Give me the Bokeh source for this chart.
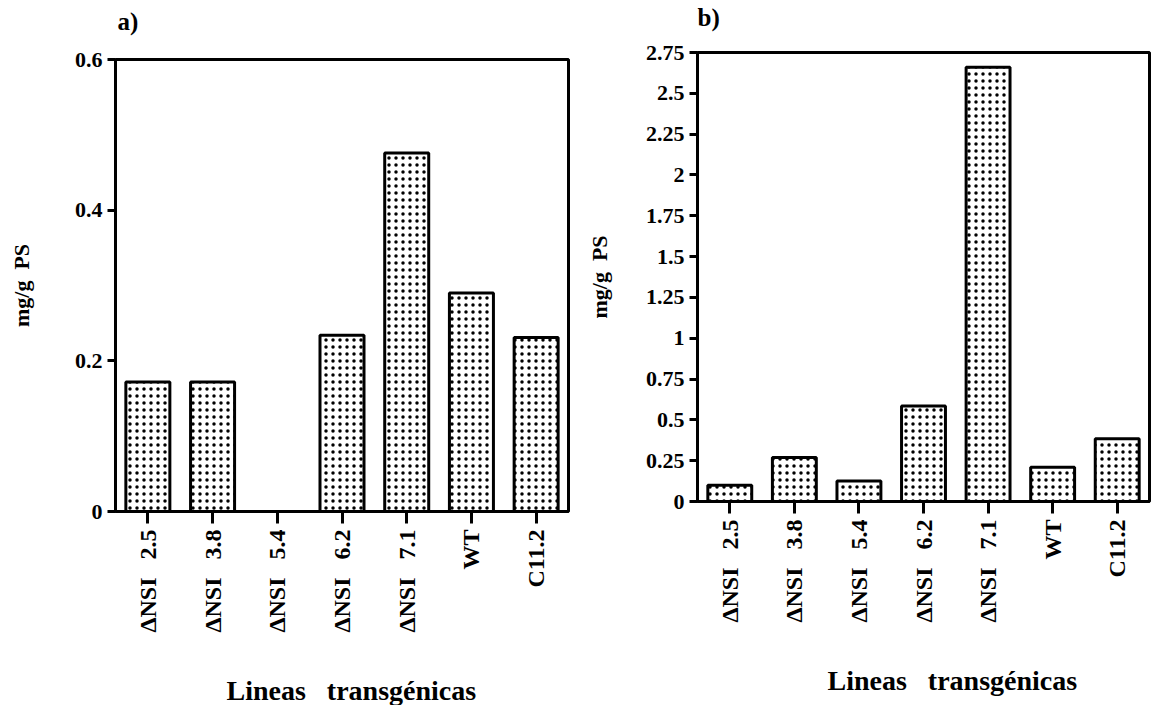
import math
from bokeh.plotting import figure
from bokeh.layouts import row
from bokeh.models import FactorRange, Range1d, FixedTicker, Title
from bokeh.embed import file_html
from bokeh.resources import INLINE

NB = "\u00a0"
categories = ["\u0394NSI" + NB * 3 + "2.5", "\u0394NSI" + NB * 3 + "3.8", "\u0394NSI" + NB * 3 + "5.4",
              "\u0394NSI" + NB * 3 + "6.2", "\u0394NSI" + NB * 3 + "7.1", "WT", "C11.2"]
values_a = [0.172, 0.172, 0.0, 0.234, 0.476, 0.29, 0.231]
values_b = [0.10, 0.27, 0.125, 0.585, 2.66, 0.21, 0.385]
ticks_a = [0, 0.2, 0.4, 0.6]
tick_labels_a = ["0", "0.2", "0.4", "0.6"]
ticks_b = [0, 0.25, 0.5, 0.75, 1, 1.25, 1.5, 1.75, 2, 2.25, 2.5, 2.75]
tick_labels_b = ["0", "0.25", "0.5", "0.75", "1", "1.25", "1.5", "1.75", "2", "2.25", "2.5", "2.75"]
x_title = "Lineas" + NB * 3 + "transg\u00e9nicas"

FONT = "Liberation Serif"


def spacer(standoff):
    return Title(text=NB, text_font_size="1px", text_color="white", standoff=standoff)


def make_panel(title, values, ymax, ticks, labels, w, h, bl, bt, br, bb, ylab_standoff,
               title_offset, top_gap, xtitle_offset, bottom_gap):
    p = figure(x_range=FactorRange(*categories), y_range=Range1d(0, ymax),
               width=w, height=h,
               min_border_left=bl, min_border_top=bt, min_border_right=br, min_border_bottom=bb,
               output_backend="svg", toolbar_location=None, tools="")
    p.frame_align = False
    p.vbar(x=categories, top=values, width=0.68, fill_color="white",
           line_color="black", line_width=3,
           hatch_pattern="dot", hatch_color="black", hatch_scale=7, hatch_weight=2.4)
    p.grid.visible = False
    p.outline_line_color = "black"
    p.outline_line_width = 3
    p.outline_line_alpha = 1
    p.background_fill_color = "white"
    p.border_fill_color = "white"

    ya = p.yaxis[0]
    ya.ticker = FixedTicker(ticks=ticks)
    ya.major_label_overrides = {t: l for t, l in zip(ticks, labels)}
    ya.major_label_text_font = FONT
    ya.major_label_text_font_style = "bold"
    ya.major_label_text_font_size = "22px"
    ya.major_label_text_color = "black"
    ya.major_tick_out = 8
    ya.major_tick_in = 0
    ya.major_tick_line_width = 3
    ya.minor_tick_line_color = None
    ya.axis_line_width = 3
    ya.axis_label = "mg/g" + NB * 2 + "PS"
    ya.axis_label_text_font = FONT
    ya.axis_label_text_font_style = "bold"
    ya.axis_label_text_font_size = "22px"
    ya.axis_label_text_color = "black"
    ya.axis_label_standoff = ylab_standoff

    xa = p.xaxis[0]
    xa.major_label_orientation = math.pi / 2
    xa.major_label_text_font = FONT
    xa.major_label_text_font_style = "bold"
    xa.major_label_text_font_size = "24px"
    xa.major_label_text_color = "black"
    xa.major_label_standoff = 6
    xa.major_tick_out = 12
    xa.major_tick_in = 0
    xa.major_tick_line_width = 3
    xa.axis_line_width = 3

    # panel title (a / b) above the frame
    p.add_layout(spacer(top_gap), "above")
    p.add_layout(Title(text=title, align="left", offset=title_offset, standoff=0,
                       text_font=FONT, text_font_style="bold", text_font_size="25px",
                       text_color="black"), "above")
    # x axis title below the tick labels
    p.add_layout(spacer(bottom_gap), "below")
    p.add_layout(Title(text=x_title, align="left", offset=xtitle_offset, standoff=0,
                       text_font=FONT, text_font_style="bold", text_font_size="28px",
                       text_color="black"), "below")
    return p


pa = make_panel("a)", values_a, 0.6, ticks_a, tick_labels_a, 580, 705, 115, 59, 12, 194, 38,
                2, 22, 111, 34)
pb = make_panel("b)", values_b, 2.75, ticks_b, tick_labels_b, 573, 705, 117, 52, 4, 204, 31,
                0, 19, 130, 34)

layout = row(pa, pb)
open("out.html", "w").write(file_html(layout, INLINE))
